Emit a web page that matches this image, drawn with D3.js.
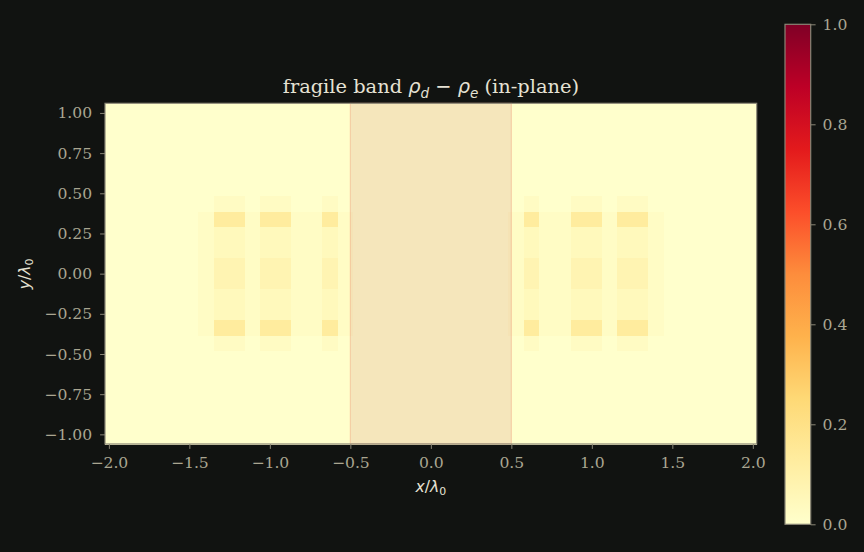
<!DOCTYPE html>
<html>
<head>
<meta charset="utf-8">
<script src="https://cdn.jsdelivr.net/npm/d3@7"></script>
<style>
  body { margin: 0; background: #111311; }
  svg { display: block; }
  text { font-family: 'DejaVu Serif', serif; }
</style>
</head>
<body>
<svg id="chart" width="864" height="552"></svg>
<script>
// axis ticks and extents (units of lambda_0)
const xTicks = [-2.0, -1.5, -1.0, -0.5, 0.0, 0.5, 1.0, 1.5, 2.0];
const yTicks = [-1.0, -0.75, -0.5, -0.25, 0.0, 0.25, 0.5, 0.75, 1.0];
const cbarTicks = [0.0, 0.2, 0.4, 0.6, 0.8, 1.0];
const xExtent = [-2.024, 2.024];
const yExtent = [-1.06, 1.06];
const nCols = 42;
const nRows = 22;

// shaded fragile band
const bandX = [-0.5, 0.5];

// matplotlib YlOrRd control colours
const ylOrRd = ['#ffffcc', '#ffeda0', '#fed976', '#feb24c', '#fd8d3c',
                '#fc4e2a', '#e31a1c', '#bd0026', '#800026'];

// rho_d - rho_e values, everything else in the grid is 0
// rows 6..15 counted from the top, columns 6..15 (left) and 26..35 (right)
const patchRow0 = 6;
const leftCol0 = 6;
const rightCol0 = 26;
const leftPatch = [
  [0,     0.025, 0.025, 0,     0.025, 0.025, 0,     0,     0.025, 0    ],
  [0.02,  0.13,  0.13,  0.02,  0.13,  0.13,  0.02,  0.02,  0.13,  0.02 ],
  [0.02,  0.045, 0.045, 0.02,  0.045, 0.045, 0.02,  0.02,  0.045, 0.02 ],
  [0.02,  0.045, 0.045, 0.02,  0.045, 0.045, 0.02,  0.02,  0.045, 0.02 ],
  [0.02,  0.075, 0.075, 0.02,  0.075, 0.075, 0.02,  0.02,  0.075, 0.02 ],
  [0.02,  0.075, 0.075, 0.02,  0.075, 0.075, 0.02,  0.02,  0.075, 0.02 ],
  [0.02,  0.045, 0.045, 0.02,  0.045, 0.045, 0.02,  0.02,  0.045, 0.02 ],
  [0.02,  0.045, 0.045, 0.02,  0.045, 0.045, 0.02,  0.02,  0.045, 0.02 ],
  [0.02,  0.13,  0.13,  0.02,  0.13,  0.13,  0.02,  0.02,  0.13,  0.02 ],
  [0,     0.025, 0.025, 0,     0.025, 0.025, 0,     0,     0.025, 0    ]
];
const rightPatch = [
  [0,     0.025, 0,     0,     0.025, 0.025, 0,     0.025, 0.025, 0    ],
  [0.02,  0.13,  0.02,  0.02,  0.13,  0.13,  0.02,  0.13,  0.13,  0.02 ],
  [0.02,  0.045, 0.02,  0.02,  0.045, 0.045, 0.02,  0.045, 0.045, 0.02 ],
  [0.02,  0.045, 0.02,  0.02,  0.045, 0.045, 0.02,  0.045, 0.045, 0.02 ],
  [0.02,  0.075, 0.02,  0.02,  0.075, 0.075, 0.02,  0.075, 0.075, 0.02 ],
  [0.02,  0.075, 0.02,  0.02,  0.075, 0.075, 0.02,  0.075, 0.075, 0.02 ],
  [0.02,  0.045, 0.02,  0.02,  0.045, 0.045, 0.02,  0.045, 0.045, 0.02 ],
  [0.02,  0.045, 0.02,  0.02,  0.045, 0.045, 0.02,  0.045, 0.045, 0.02 ],
  [0.02,  0.13,  0.02,  0.02,  0.13,  0.13,  0.02,  0.13,  0.13,  0.02 ],
  [0,     0.025, 0,     0,     0.025, 0.025, 0,     0.025, 0.025, 0    ]
];

const frameColor = '#8a8676';
const tickTextColor = '#aaa691';
const fontSize = 15.6;
const titleSize = 19.4;

let svg = d3.select('#chart');

let x = d3.scaleLinear().domain(xExtent).range([105, 756.7]);
let y = d3.scaleLinear().domain(yExtent).range([444, 103.3]);
let cbarY = d3.scaleLinear().domain([0, 1]).range([524.3, 24.3]);

const color = d3.scaleLinear()
  .domain(ylOrRd.map(function(d, i) { return i / (ylOrRd.length - 1); }))
  .range(ylOrRd)
  .interpolate(d3.interpolateRgb)
  .clamp(true);

// build the full grid (row 0 = top)
let cells = [];
for (let r = 0; r < nRows; r++) {
  for (let c = 0; c < nCols; c++) {
    let v = 0;
    let pr = r - patchRow0;
    if (pr >= 0 && pr < leftPatch.length) {
      if (c >= leftCol0 && c < leftCol0 + leftPatch[pr].length) v = leftPatch[pr][c - leftCol0];
      if (c >= rightCol0 && c < rightCol0 + rightPatch[pr].length) v = rightPatch[pr][c - rightCol0];
    }
    cells.push({row: r, col: c, value: v});
  }
}

const cw = (xExtent[1] - xExtent[0]) / nCols;
const ch = (yExtent[1] - yExtent[0]) / nRows;

drawHeatmap();
drawBand();
drawAxes();
drawColorbar();
drawLabels();

function drawHeatmap() {
  svg.append('g')
    .attr('class', 'cells')
    .attr('shape-rendering', 'crispEdges')
    .selectAll('rect').data(cells).enter()
    .append('rect')
      .attr('x', function(d) { return x(xExtent[0] + d.col * cw); })
      .attr('y', function(d) { return y(yExtent[1] - d.row * ch); })
      .attr('width', function(d) { return x(xExtent[0] + (d.col + 1) * cw) - x(xExtent[0] + d.col * cw) + 0.5; })
      .attr('height', function(d) { return y(yExtent[1] - (d.row + 1) * ch) - y(yExtent[1] - d.row * ch) + 0.5; })
      .attr('fill', function(d) { return color(d.value); });
}

function drawBand() {
  // translucent span over the central band
  svg.append('rect')
    .attr('class', 'band')
    .attr('x', x(bandX[0]))
    .attr('y', y(yExtent[1]))
    .attr('width', x(bandX[1]) - x(bandX[0]))
    .attr('height', y(yExtent[0]) - y(yExtent[1]))
    .attr('fill', 'rgb(200,116,110)')
    .attr('fill-opacity', 0.18)
    .attr('stroke', 'rgba(235,130,100,0.3)')
    .attr('stroke-width', 1.2);
}

function styleAxis(g) {
  g.select('.domain').remove();
  g.selectAll('.tick line').attr('stroke', frameColor).attr('stroke-width', 1);
  g.selectAll('.tick text')
    .attr('fill', tickTextColor)
    .style('font-family', "'DejaVu Serif', serif")
    .style('font-size', fontSize + 'px');
}

function fmt(n) {
  return function(d) { return d3.format('.' + n + 'f')(d).replace('-', '\u2212'); };
}

function drawAxes() {
  svg.append('g')
    .attr('transform', 'translate(0,444)')
    .call(d3.axisBottom(x).tickValues(xTicks).tickSize(4.9).tickPadding(8).tickFormat(fmt(1)))
    .call(styleAxis);

  svg.append('g')
    .attr('transform', 'translate(105,0)')
    .call(d3.axisLeft(y).tickValues(yTicks).tickSize(4.9).tickPadding(8).tickFormat(fmt(2)))
    .call(styleAxis);

  // frame around the image
  svg.append('rect')
    .attr('x', x(xExtent[0]))
    .attr('y', y(yExtent[1]))
    .attr('width', x(xExtent[1]) - x(xExtent[0]))
    .attr('height', y(yExtent[0]) - y(yExtent[1]))
    .attr('fill', 'none')
    .attr('stroke', frameColor)
    .attr('stroke-width', 1.2);
}

function drawColorbar() {
  let grad = svg.append('defs').append('linearGradient')
    .attr('id', 'cbar')
    .attr('x1', 0).attr('y1', 1).attr('x2', 0).attr('y2', 0);
  grad.selectAll('stop').data(color.domain()).enter()
    .append('stop')
      .attr('offset', function(d) { return d; })
      .attr('stop-color', function(d) { return color(d); });

  svg.append('rect')
    .attr('x', 785)
    .attr('y', cbarY(1))
    .attr('width', 25.7)
    .attr('height', cbarY(0) - cbarY(1))
    .attr('fill', 'url(#cbar)')
    .attr('stroke', frameColor)
    .attr('stroke-width', 1.2);

  svg.append('g')
    .attr('transform', 'translate(810.7,0)')
    .call(d3.axisRight(cbarY).tickValues(cbarTicks).tickSize(4.9).tickPadding(7).tickFormat(fmt(1)))
    .call(styleAxis);
}

// mathtext-like runs: serif text, italic sans symbols and subscripts
function richText(sel, parts, size) {
  parts.forEach(function(p) {
    let t = sel.append('tspan').text(p.t);
    if (p.math) t.style('font-family', "'DejaVu Sans', sans-serif");
    if (p.italic) t.style('font-style', 'italic');
    if (p.sub) {
      t.attr('dy', size * 0.22).style('font-size', (size * 0.7) + 'px');
    } else if (p.after) {
      t.attr('dy', -size * 0.22);
    }
  });
}

function drawLabels() {
  let title = svg.append('text')
    .attr('x', 430.9)
    .attr('y', 93.3)
    .attr('text-anchor', 'middle')
    .attr('fill', '#e6e2d4')
    .style('font-size', titleSize + 'px');
  richText(title, [
    {t: 'fragile band '},
    {t: '\u03c1', math: true, italic: true},
    {t: 'd', math: true, italic: true, sub: true},
    {t: ' \u2212 ', math: true, after: true},
    {t: '\u03c1', math: true, italic: true},
    {t: 'e', math: true, italic: true, sub: true},
    {t: ' (in-plane)', after: true}
  ], titleSize);

  let xl = svg.append('text')
    .attr('x', 430.9)
    .attr('y', 491.7)
    .attr('text-anchor', 'middle')
    .attr('fill', '#e6e2d4')
    .style('font-family', "'DejaVu Sans', sans-serif")
    .style('font-size', fontSize + 'px');
  richText(xl, [
    {t: 'x', math: true, italic: true},
    {t: '/', math: true},
    {t: '\u03bb', math: true, italic: true},
    {t: '0', math: true, sub: true}
  ], fontSize);

  let yl = svg.append('text')
    .attr('transform', 'translate(30,274) rotate(-90)')
    .attr('text-anchor', 'middle')
    .attr('fill', '#e6e2d4')
    .style('font-family', "'DejaVu Sans', sans-serif")
    .style('font-size', fontSize + 'px');
  richText(yl, [
    {t: 'y', math: true, italic: true},
    {t: '/', math: true},
    {t: '\u03bb', math: true, italic: true},
    {t: '0', math: true, sub: true}
  ], fontSize);
}
</script>
</body>
</html>
